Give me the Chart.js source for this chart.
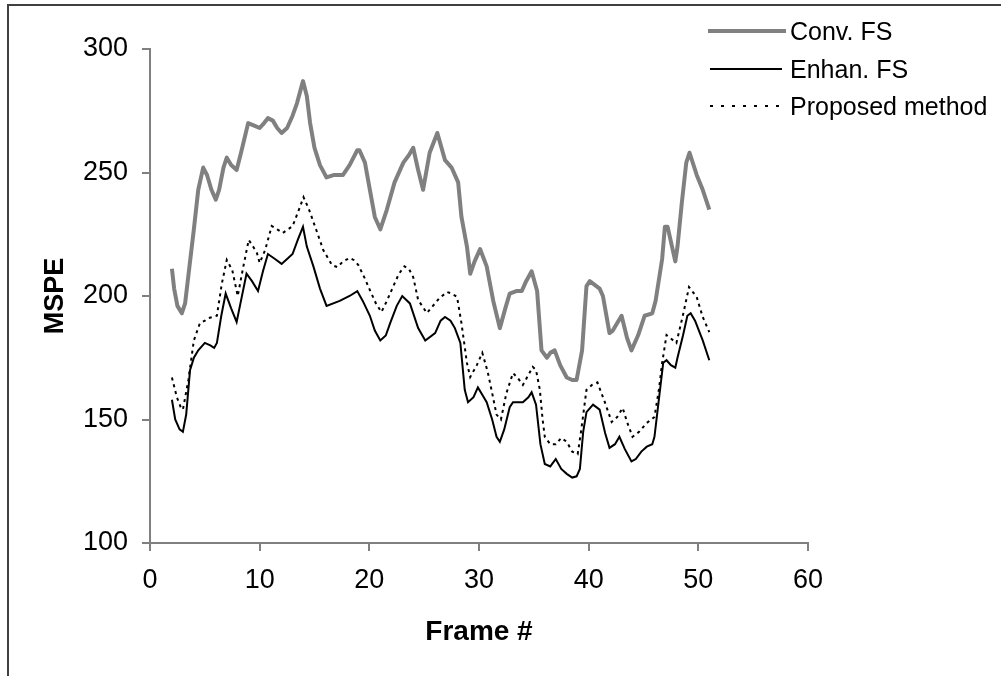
<!DOCTYPE html>
<html>
<head>
<meta charset="utf-8">
<script src="https://cdn.jsdelivr.net/npm/chart.js@4/dist/chart.umd.min.js"></script>
<style>
  html, body { margin: 0; padding: 0; background: #fff; }
  #wrap { position: relative; width: 1001px; height: 676px; overflow: hidden; }
  canvas { position: absolute; left: 0; top: 0; }
  .leg { position: absolute; left: 706px; height: 30px; display: flex; align-items: center;
         font-family: "Liberation Sans", Arial, sans-serif; font-size: 25px; color: #000; white-space: nowrap; }
  .leg svg { margin-right: 4px; }
</style>
</head>
<body>
<div id="wrap">
  <canvas id="c" width="1001" height="676"></canvas>
  <div class="leg" style="top:16px"><svg width="80" height="10"><line x1="2" y1="5" x2="80" y2="5" stroke="#808080" stroke-width="4"/></svg><span>Conv. FS</span></div>
  <div class="leg" style="top:54px"><svg width="80" height="10"><line x1="4" y1="5" x2="76" y2="5" stroke="#000" stroke-width="2"/></svg><span>Enhan. FS</span></div>
  <div class="leg" style="top:91px"><svg width="80" height="10"><line x1="4" y1="5" x2="80" y2="5" stroke="#000" stroke-width="2" stroke-dasharray="3 8"/></svg><span>Proposed method</span></div>
</div>
<script>
// ---- Data ----
const xTicks = [0, 10, 20, 30, 40, 50, 60];
const yTicks = [100, 150, 200, 250, 300];

const convFrames = [2.0,2.2,2.5,2.9,3.2,3.6,4.0,4.4,4.85,5.2,5.6,6.0,6.3,6.7,7.0,7.4,7.9,8.3,8.95,9.5,10.0,10.4,10.75,11.2,11.6,12.0,12.5,13.0,13.4,13.95,14.3,14.6,15.0,15.5,16.1,16.8,17.6,18.2,18.9,19.1,19.6,20.05,20.5,21.0,21.6,22.3,23.1,23.6,24.0,24.45,24.9,25.5,26.2,26.9,27.5,28.1,28.4,28.9,29.2,29.6,30.1,30.7,31.3,31.9,32.4,32.8,33.4,33.9,34.3,34.8,35.3,35.7,36.2,36.5,36.9,37.4,38.0,38.5,38.9,39.4,39.8,40.1,41.0,41.3,41.9,42.2,43.0,43.5,43.9,44.5,45.1,45.8,46.1,46.7,46.95,47.2,47.6,47.9,48.1,48.5,48.9,49.2,49.85,50.4,51.0];
const convValues = [211,203,196,193,197,212,227,243,252,249,243,239,243,252,256,253,251,258,270,269,268,270,272,271,268,266,268,273,278,287,281,270,260,253,248,249,249,253,259,259,254,243,232,227,235,246,254,257,260,251,243,258,266,255,252,246,232,220,209,214,219,212,198,187,195,201,202,202,206,210,202,178,175,177,178,172,167,166,166,178,204,206,203,200,185,186,192,183,178,184,192,193,198,215,228,228,220,214,220,238,254,258,249,243,235];

const enhFrames = [2.0,2.3,2.7,3.0,3.3,3.65,4.0,4.4,5.0,5.5,5.85,6.1,6.5,6.9,7.4,7.9,8.2,8.8,9.3,9.85,10.3,10.75,11.4,12.0,12.5,13.0,13.5,13.95,14.3,14.9,15.5,16.1,17.3,18.2,18.9,19.4,20.05,20.5,21.0,21.5,21.9,22.5,23.0,23.7,24.45,25.1,26.0,26.5,26.9,27.4,27.8,28.3,28.7,29.0,29.5,29.9,30.3,30.7,31.2,31.6,31.9,32.3,32.8,33.1,34.0,34.5,34.8,35.2,35.6,36.0,36.5,37.0,37.5,38.0,38.5,38.9,39.2,39.5,39.8,40.4,41.0,41.5,41.9,42.4,42.8,43.3,43.9,44.3,44.8,45.3,45.8,46.0,46.4,46.8,47.1,47.5,47.9,48.1,48.6,49.0,49.3,49.7,50.4,51.0];
const enhValues = [158,150,146,145,152,170,175,178,181,180,179,181,192,201,195,189.5,196,209,206,202,210,217,215,213,215,217,223,228,220,212,203,196,198,200,202,198,192,186,182,184,189,196,200,197,187,182,185,190,191.5,190,187,181,162,157,159,163,160,157,150,143,141,146,155,157,157,159,161,156,140,132,131,134,130,128,126.5,127,130,145,153,156,154,144.5,138.5,140,143,138,133,134,137,139,140,143,158,173,174,172,171,175,184,192,193,190,182,174];

const propFrames = [2.0,2.45,2.8,3.0,3.5,4.0,4.55,5.0,5.3,6.1,6.55,7.0,7.5,8.0,8.5,9.0,9.4,9.75,10.0,10.5,11.1,11.6,12.1,12.6,13.0,13.5,14.0,14.5,14.9,15.3,15.8,16.6,17.1,17.6,18.2,18.6,19.0,19.6,20.05,20.6,21.1,21.6,22.15,22.7,23.2,23.6,24.0,24.45,25.25,25.8,26.4,27.1,27.5,28.0,28.4,28.9,29.2,29.8,30.3,30.8,31.2,31.6,32.0,32.5,33.1,33.5,34.0,34.5,34.9,35.2,35.55,35.8,36.0,36.5,37.0,37.5,38.0,38.5,39.0,39.3,39.8,40.3,40.8,41.5,42.1,42.6,43.1,43.5,44.0,44.6,45.3,46.0,46.4,46.7,47.1,48.0,48.6,49.15,49.85,50.4,51.0];
const propValues = [167,159,155,154,166,182,189,190,191,192,205,214.6,210.5,200,211.7,222.7,220,217.4,213.4,218.6,228.3,227,225.5,227,228.3,234,240,235,230,225,218.6,212.5,211.7,214,215.4,214.5,212.5,207,202.4,197,193.5,198,203.6,209,212,211,207.7,198.4,193.1,196,199.2,201.6,201,199.6,189,172.9,167.2,172,177,169.2,160.7,152,150,160.7,168.8,167,164,168,171.3,170,162,150,143,140,140,142.5,141,137,136,145,162,164,165,156.7,149,151,154.7,149,143,145,148.6,151,162,172.9,184.2,181,192.3,203.6,199.6,191.5,185.4];

const seriesNames = ["Conv. FS", "Enhan. FS", "Proposed method"];

function pts(xs, ys) { return xs.map((x, i) => ({ x: x, y: ys[i] })); }

const framePlugin = {
  id: 'frameBorder',
  beforeDraw(chart) {
    const ctx = chart.ctx;
    ctx.save();
    ctx.fillStyle = '#fff';
    ctx.fillRect(0, 0, chart.width, chart.height);
    ctx.strokeStyle = '#404040';
    ctx.lineWidth = 2;
    ctx.beginPath();
    ctx.moveTo(8, chart.height + 5);
    ctx.lineTo(8, 5);
    ctx.lineTo(chart.width + 5, 5);
    ctx.stroke();
    ctx.restore();
  }
};

const FONT = '"Liberation Sans", Arial, sans-serif';

new Chart(document.getElementById('c'), {
  type: 'line',
  data: {
    datasets: [
      { label: seriesNames[0], data: pts(convFrames, convValues), borderColor: '#808080', borderWidth: 4, pointRadius: 0, tension: 0, borderJoinStyle: 'round' },
      { label: seriesNames[1], data: pts(enhFrames, enhValues), borderColor: '#000', borderWidth: 2, pointRadius: 0, tension: 0 },
      { label: seriesNames[2], data: pts(propFrames, propValues), borderColor: '#000', borderWidth: 2, borderDash: [3, 4], pointRadius: 0, tension: 0 }
    ]
  },
  options: {
    responsive: false,
    animation: false,
    events: [],
    layout: { padding: { left: 0, top: 49, right: 193, bottom: 0 } },
    plugins: { legend: { display: false }, tooltip: { enabled: false } },
    scales: {
      x: {
        type: 'linear', min: 0, max: 60,
        afterBuildTicks: (s) => { s.ticks = xTicks.map(v => ({ value: v })); },
        afterFit: (s) => { s.height = 133; },
        border: { color: '#808080', width: 2 },
        grid: { drawOnChartArea: false, drawTicks: true, tickLength: 8, color: '#808080', lineWidth: 2 },
        ticks: { color: '#000', font: { family: FONT, size: 27 }, padding: 13, maxRotation: 0 },
        title: { display: true, text: 'Frame #', color: '#000', font: { family: FONT, size: 28, weight: 'bold' }, padding: { top: 0, bottom: 27 } }
      },
      y: {
        type: 'linear', min: 100, max: 300,
        afterBuildTicks: (s) => { s.ticks = yTicks.map(v => ({ value: v })); },
        afterFit: (s) => { s.width = 150; },
        border: { color: '#808080', width: 2 },
        grid: { drawOnChartArea: false, drawTicks: true, tickLength: 8, color: '#808080', lineWidth: 2 },
        ticks: { color: '#000', font: { family: FONT, size: 27 }, padding: 14 },
        title: { display: true, text: 'MSPE', color: '#000', font: { family: FONT, size: 27, weight: 'bold' }, padding: { top: 39, bottom: 0 } }
      }
    }
  },
  plugins: [framePlugin]
});
</script>
</body>
</html>
